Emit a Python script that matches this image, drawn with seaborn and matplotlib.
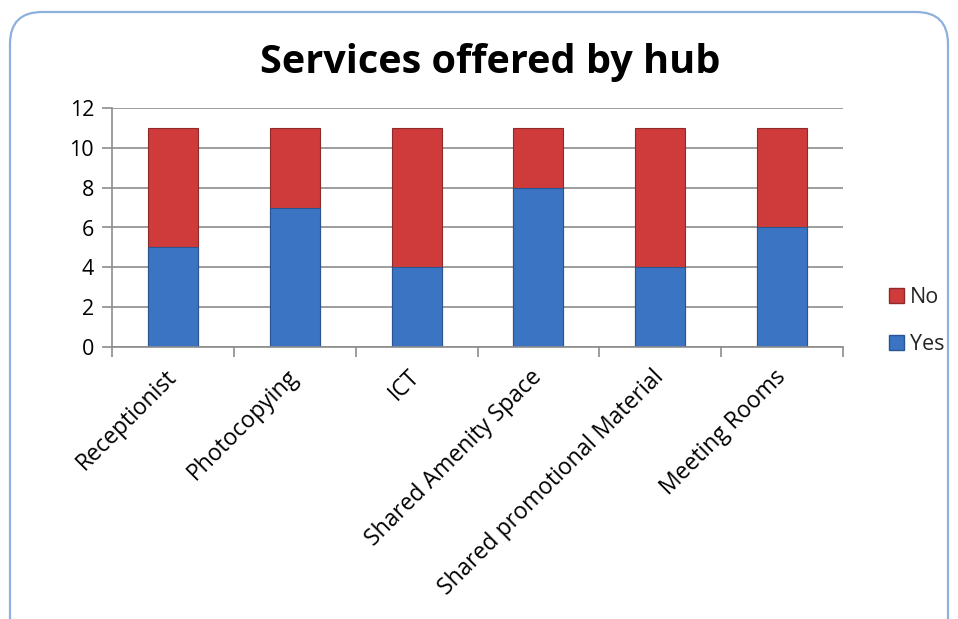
import matplotlib
matplotlib.use("Agg")
import matplotlib.pyplot as plt
import seaborn as sns
import pandas as pd
from matplotlib.patches import FancyBboxPatch, Patch

categories = ["Receptionist", "Photocopying", "ICT", "Shared Amenity Space",
              "Shared promotional Material", "Meeting Rooms"]
yes_values = [5, 7, 4, 8, 4, 6]
no_values = [6, 4, 7, 3, 7, 5]
y_ticks = [0, 2, 4, 6, 8, 10, 12]
title = "Services offered by hub"

blue = "#3A74C2"
red = "#CF3A3A"
grid_c = "#8C8C8C"

sns.set_theme(style="white")
plt.rcParams["font.family"] = ["Open Sans", "DejaVu Sans"]

df = pd.DataFrame({
    "category": categories,
    "Yes": yes_values,
    "No": no_values,
})
df["Total"] = df["Yes"] + df["No"]

fig = plt.figure(figsize=(9.58, 6.19), dpi=100)
ax = fig.add_axes([112/958, 1-347/619, (843-112)/958, (347-108)/619])

sns.barplot(data=df, x="category", y="Total", color=red, width=0.41, ax=ax,
            saturation=1, edgecolor="#8E2A2A", linewidth=0.8)
sns.barplot(data=df, x="category", y="Yes", color=blue, width=0.41, ax=ax,
            saturation=1, edgecolor="#2A5590", linewidth=0.8)

ax.set_ylim(0, 12)
ax.set_xlim(-0.5, len(categories) - 0.5)
ax.set_yticks(y_ticks)
ax.set_yticklabels([str(t) for t in y_ticks], fontsize=15.5)
ax.yaxis.grid(True, color=grid_c, linewidth=1.2)
ax.set_axisbelow(True)
for s in ["top", "right"]:
    ax.spines[s].set_visible(False)
for s in ["left", "bottom"]:
    ax.spines[s].set_color(grid_c)
    ax.spines[s].set_linewidth(1.2)
ax.tick_params(axis="y", which="major", left=True, length=7, width=1.2,
               color=grid_c, pad=6, labelcolor="black")

# category labels
ax.set_xticks(range(len(categories)))
ax.set_xticklabels(categories, rotation=45, ha="right", va="center",
                   rotation_mode="anchor", fontsize=16.5)
ax.tick_params(axis="x", which="major", bottom=False, pad=13, labelcolor="black")
ax.set_xticks([i - 0.5 for i in range(len(categories) + 1)], minor=True)
ax.tick_params(axis="x", which="minor", bottom=True, length=7, width=1.2,
               color=grid_c)
ax.set_xlabel("")
ax.set_ylabel("")

fig.text(490/958, 1-62/619, title, ha="center", va="center",
         fontsize=28.5, fontweight="bold", color="black")

handles = [Patch(facecolor=red, edgecolor="#8E2A2A", label="No"),
           Patch(facecolor=blue, edgecolor="#2A5590", label="Yes")]
leg = fig.legend(handles=handles, loc="center left",
                 bbox_to_anchor=(880/958, 1-321/619), frameon=False,
                 fontsize=15.5, handlelength=0.7, handleheight=0.7,
                 handletextpad=0.3, labelspacing=1.2, borderaxespad=0)

border = FancyBboxPatch((0.10, -0.5), 9.38, 6.07 + 0.5,
                        boxstyle="round,pad=0,rounding_size=0.32",
                        transform=fig.dpi_scale_trans, facecolor="none",
                        edgecolor="#8DB0DD", linewidth=1.6, clip_on=False)
fig.patches.append(border)

fig.savefig("out.png", dpi=100)
